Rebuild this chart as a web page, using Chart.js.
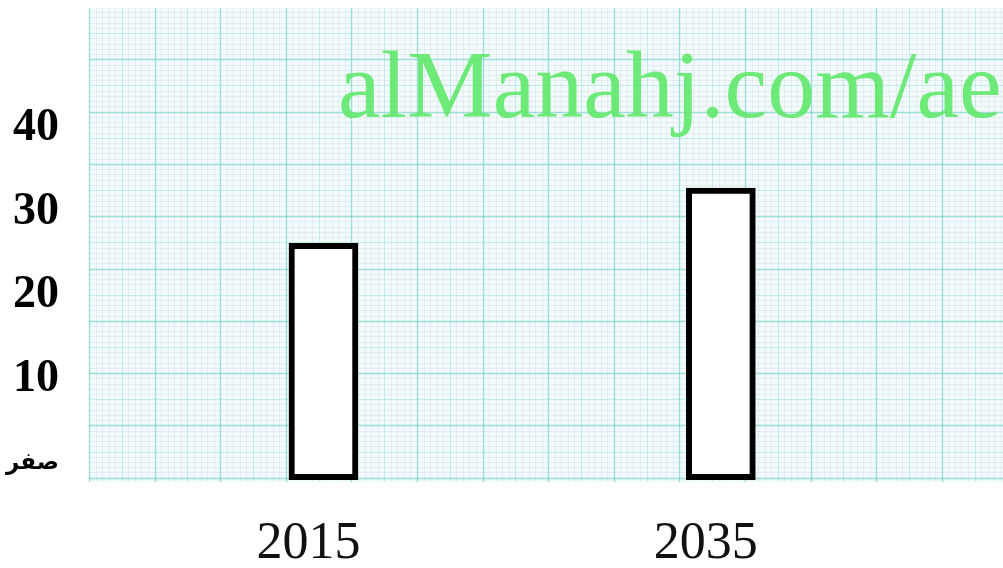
<!DOCTYPE html>
<html>
<head>
<meta charset="utf-8">
<script src="https://cdn.jsdelivr.net/npm/chart.js@4.4.1/dist/chart.umd.min.js"></script>
<style>
  html, body { margin: 0; padding: 0; background: #fff; }
  #wrap { width: 1003px; height: 568px; }
</style>
</head>
<body>
<div id="wrap"><canvas id="c"></canvas></div>
<script>
// القيم المقروءة من الرسم
const years = [2015, 2035];
const values = [26.2, 32.8];
const yTicks = [0, 10, 20, 30, 40];
const zeroLabel = 'صفر';
const watermark = 'alManahj.com/ae';

// حدود المحاور
const yMin = -2.27, yMax = 54.3, barBase = -2;
const xMin = 2003.2, xMax = 2049.2;

// ورق الرسم البياني (خلفية منطقة الرسم)
const graphPaper = {
  id: 'graphPaper',
  beforeDatasetsDraw(chart) {
    const { ctx, chartArea: a } = chart;
    const sx = 65.6, sy = 52.3;
    ctx.save();
    ctx.fillStyle = '#f1fbfb';
    ctx.fillRect(a.left, a.top, a.right - a.left, a.bottom - a.top);
    const line = (x1, y1, x2, y2, color, w) => {
      ctx.strokeStyle = color; ctx.lineWidth = w;
      ctx.beginPath(); ctx.moveTo(x1, y1); ctx.lineTo(x2, y2); ctx.stroke();
    };
    const colorOf = k => k === 0 ? 'rgba(115,208,198,0.65)' : k === 5 ? 'rgba(135,218,210,0.45)' : 'rgba(185,185,205,0.22)';
    for (let i = 0; a.left + i * sx / 10 <= a.right + 1; i++) {
      const x = Math.round(a.left + i * sx / 10) + 0.5;
      line(x, a.top, x, a.bottom, colorOf(i % 10), i % 10 === 0 ? 1.4 : 1);
    }
    for (let j = -10; 7 + j * sy / 10 <= a.bottom; j++) {
      const y = Math.round(7 + j * sy / 10) + 0.5;
      if (y < a.top) continue;
      const k = ((j % 10) + 10) % 10;
      line(a.left, y, a.right, y, colorOf(k), k === 0 ? 1.4 : 1);
    }
    ctx.restore();
  },
  afterDatasetsDraw(chart) {
    const ctx = chart.ctx;
    ctx.save();
    ctx.font = '96px "Liberation Serif"';
    ctx.fillStyle = 'rgba(95,232,105,0.9)';
    ctx.textBaseline = 'alphabetic';
    ctx.textAlign = 'left';
    ctx.fillText(watermark, 338, 117);
    ctx.restore();
  }
};

new Chart(document.getElementById('c'), {
  type: 'bar',
  data: {
    datasets: [{
      data: years.map((x, i) => ({ x: x, y: values[i] })),
      base: barBase,
      backgroundColor: '#ffffff',
      borderColor: '#000000',
      borderWidth: 6,
      borderSkipped: false,
      barThickness: 69
    }]
  },
  options: {
    responsive: true,
    maintainAspectRatio: false,
    animation: false,
    events: [],
    layout: { padding: { top: 8, right: 0, left: 0, bottom: 0 } },
    plugins: { legend: { display: false }, tooltip: { enabled: false } },
    scales: {
      x: {
        type: 'linear',
        offset: false,
        min: xMin, max: xMax,
        grid: { display: false, drawTicks: false },
        border: { display: false },
        afterBuildTicks: s => { s.ticks = years.map(v => ({ value: v })); },
        afterFit: s => { s.height = 86; s.paddingLeft = 0; s.paddingRight = 0; },
        ticks: {
          padding: 31,
          labelOffset: -15,
          color: '#111',
          font: { family: '"Liberation Serif"', size: 52 },
          callback: v => String(v)
        }
      },
      y: {
        type: 'linear',
        min: yMin, max: yMax,
        grid: { display: false, drawTicks: false },
        border: { display: false },
        afterBuildTicks: s => { s.ticks = yTicks.map(v => ({ value: v })); },
        afterFit: s => { s.width = 89; s.paddingTop = 0; s.paddingBottom = 0; },
        ticks: {
          padding: 30,
          color: '#000',
          font: ctx => ctx.tick && ctx.tick.value === 0
            ? { family: '"DejaVu Sans"', size: 23, weight: 'bold' }
            : { family: '"Liberation Serif"', size: 46, weight: 'bold' },
          callback: v => v === 0 ? zeroLabel : String(v)
        }
      }
    }
  },
  plugins: [graphPaper]
});
</script>
</body>
</html>
